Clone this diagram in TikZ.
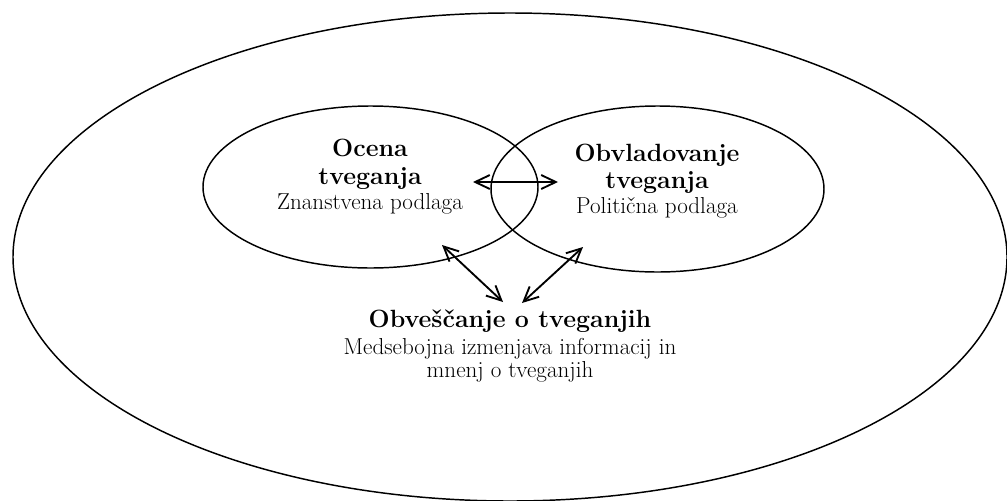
\documentclass[tikz,border=0pt]{standalone}
\usepackage{fontspec}
\usetikzlibrary{shapes.geometric,arrows.meta}
\begin{document}
\begin{tikzpicture}[x=0.75pt,y=-0.75pt,
  ring/.style={draw, ellipse, inner sep=0pt, outer sep=0pt, line width=1.1pt},
  head/.style={font=\fontsize{18.7}{22}\selectfont\bfseries, anchor=base, inner sep=0pt},
  sub/.style={font=\fontsize{17.3}{20}\selectfont, anchor=base, inner sep=0pt},
  link/.style={line width=1.4pt, {Straight Barb[length=11pt,width=10.5pt]}-{Straight Barb[length=11pt,width=10.5pt]}}]
\useasboundingbox (0,0) rectangle (1007,500);
\clip (0,0) rectangle (1007,500);
% ellipses
\node[ring, minimum width=745.5pt, minimum height=366pt] (outer) at (510,257) {};
\node[ring, minimum width=251.25pt, minimum height=121.5pt] (left) at (370.5,187) {};
\node[ring, minimum width=249.75pt, minimum height=124.5pt] (right) at (657.5,189) {};
% texts
\node[head] (l1) at (370,156) {Ocena};
\node[head] (l2) at (370,184) {tveganja};
\node[sub]  (l3) at (370,209) {Znanstvena podlaga};
\node[head] (r1) at (657,161) {Obvladovanje};
\node[head] (r2) at (657,188) {tveganja};
\node[sub]  (r3) at (657,213) {Politična podlaga};
\node[head] (b1) at (510,327) {Obveščanje o tveganjih};
\node[sub]  (b2) at (510,354) {Medsebojna izmenjava informacij in};
\node[sub]  (b3) at (510,377) {mnenj o tveganjih};
% arrow ends
\coordinate (hA) at (473,182);
\coordinate (hB) at (558,182);
\coordinate (dA1) at (442,245);
\coordinate (dA2) at (503,302);
\coordinate (dB1) at (583,247);
\coordinate (dB2) at (522,303);
\draw[link] (hA) -- (hB);
\draw[link] (dA1) -- (dA2);
\draw[link] (dB1) -- (dB2);
\end{tikzpicture}
\end{document}
